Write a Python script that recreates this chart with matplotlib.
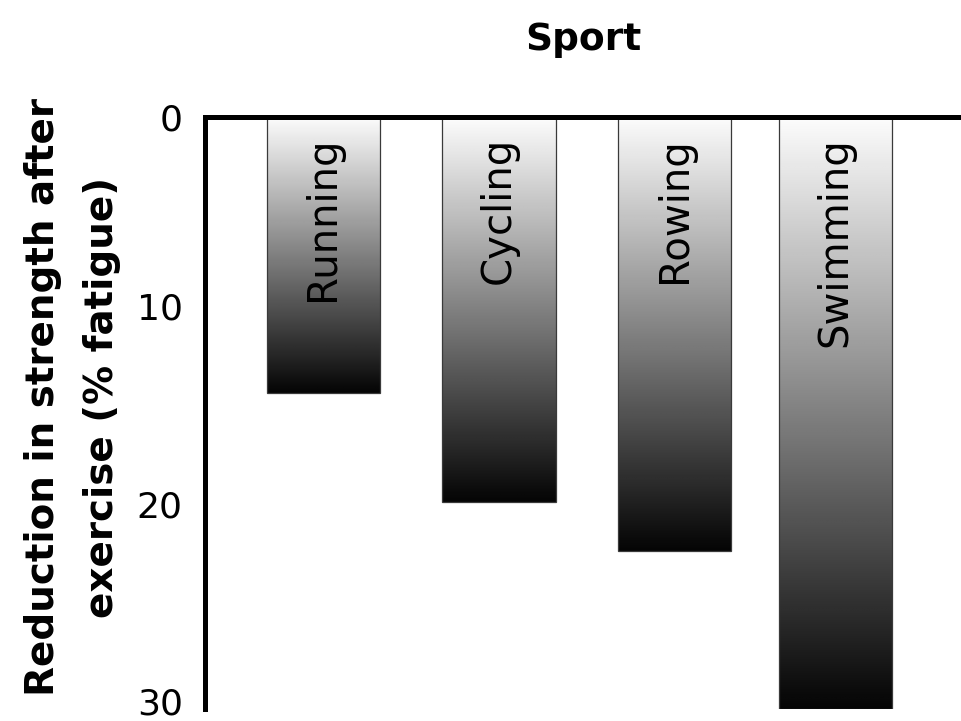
import numpy as np
import matplotlib.pyplot as plt
from matplotlib.transforms import ScaledTranslation

# fatigue after exercise, by sport
sports = ['Running', 'Cycling', 'Rowing', 'Swimming']
fatigue = [14.0, 19.5, 22.0, 30.0]
yticks = [0, 10, 20, 30]

# bar slots along the x axis (last one sits a bit closer)
slots = [0, 1, 2, 2.915]
bar_width = 0.644

plt.rcParams['font.family'] = ['DejaVu Sans']

fig = plt.figure(figsize=(9.61, 7.21), dpi=100)
ax = fig.add_axes([0.2133, 0.0166, 0.7867, 0.8211])

# vertical white-to-black fill for each bar
grad = np.linspace(0.99, 0.02, 256).reshape(-1, 1)
for x, v, name in zip(slots, fatigue, sports):
    ax.imshow(grad, cmap='gray', vmin=0, vmax=1, aspect='auto',
              extent=(x - bar_width / 2, x + bar_width / 2, v, 0),
              interpolation='bilinear', zorder=2)
    ax.bar(x, v, bar_width, bottom=0, color='none',
           edgecolor='#3a3a3a', linewidth=0.9, zorder=3)
    ax.text(x, 1.0, name, rotation=90, ha='center', va='top',
            fontsize=29, zorder=4)

ax.set_xlim(-0.675, 3.632)
ax.set_ylim(30, 0)
ax.set_yticks(yticks)
ax.set_xticks([])
ax.tick_params(axis='y', length=0, pad=16, labelsize=26)

# nudge the lower numbers up a little, 0 stays by the top line
lift = ScaledTranslation(0, 8 / 100, fig.dpi_scale_trans)
for lab in ax.get_yticklabels()[1:]:
    lab.set_transform(lab.get_transform() + lift)

for side in ('right', 'bottom'):
    ax.spines[side].set_visible(False)
for side in ('left', 'top'):
    ax.spines[side].set_linewidth(3.6)
    ax.spines[side].set_zorder(5)

fig.text(0.607, 1 - 40 / 721, 'Sport', ha='center', va='center',
         fontsize=27, fontweight='bold')
fig.text(0.075, 0.449, 'Reduction in strength after\nexercise (% fatigue)',
         rotation=90, ha='center', va='center', multialignment='center',
         fontsize=28, fontweight='bold', linespacing=1.7)

fig.savefig('out.png', dpi=100)
